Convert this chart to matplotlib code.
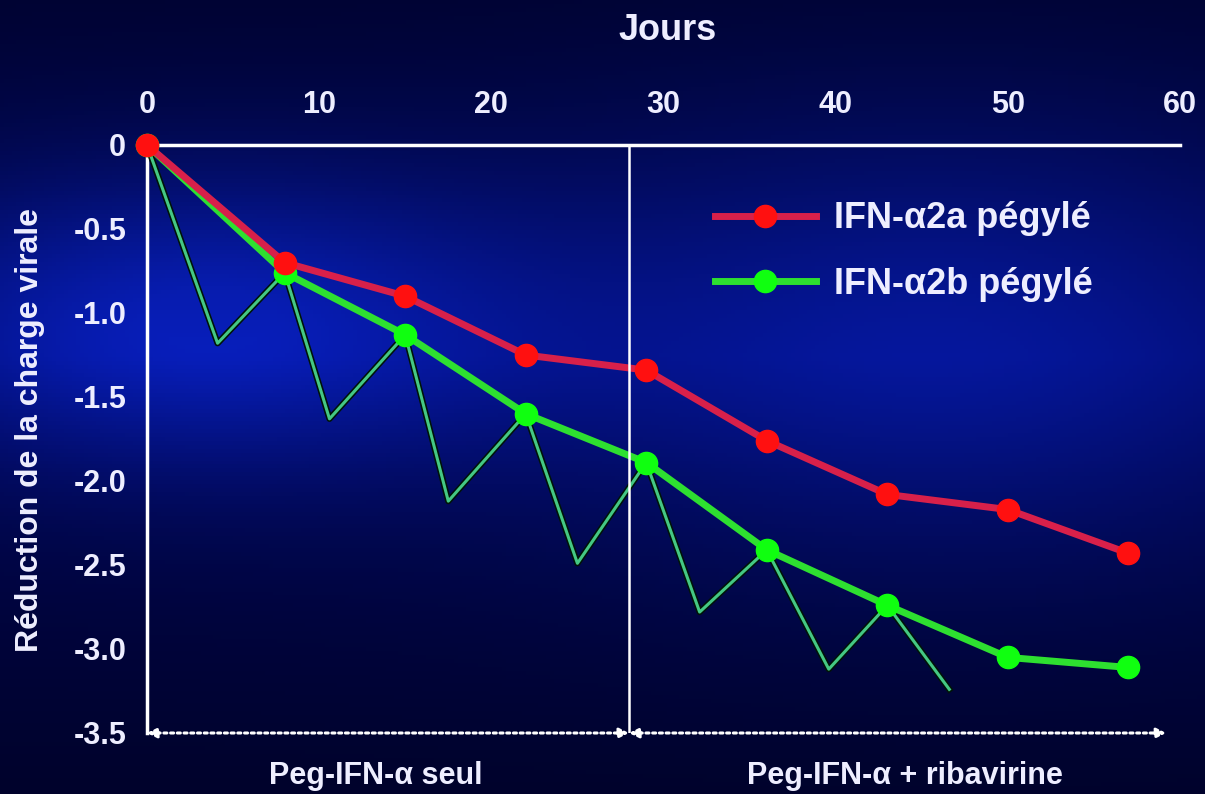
import matplotlib
matplotlib.use("Agg")
import matplotlib.pyplot as plt
import matplotlib.patheffects as pe
import numpy as np

plt.rcParams['font.family'] = ['Liberation Sans', 'DejaVu Sans']
plt.rcParams['font.weight'] = 'bold'

# data
days_a = [0, 8, 15, 22, 29, 36, 43, 50, 57]
red_a = [0, -0.70, -0.90, -1.25, -1.34, -1.76, -2.08, -2.17, -2.43]
days_b = [0, 8, 15, 22, 29, 36, 43, 50, 57]
green_b = [0, -0.76, -1.13, -1.60, -1.89, -2.41, -2.74, -3.05, -3.11]
# weekly dosing sawtooth for the 2b product
saw_days = [0, 4.1, 8, 10.6, 15, 17.5, 22, 25, 29, 32.1, 36, 39.6, 43, 46.6]
saw_vals = [0, -1.18, -0.76, -1.63, -1.13, -2.12, -1.60, -2.49, -1.89, -2.78, -2.41, -3.12, -2.74, -3.24]

phase_edges = [0, 28, 59.2]
phase_label_x = [13.3, 44.0]
phase_labels = ["Peg-IFN-\u03b1 seul", "Peg-IFN-\u03b1 + ribavirine"]
series_labels = ["IFN-\u03b12a p\u00e9gyl\u00e9", "IFN-\u03b12b p\u00e9gyl\u00e9"]
xticks = [0, 10, 20, 30, 40, 50, 60]
yticks = [0, -0.5, -1.0, -1.5, -2.0, -2.5, -3.0, -3.5]

W, H = 1205, 794
fig = plt.figure(figsize=(W / 100, H / 100), dpi=100)

# dark blue slide background with a soft glow
bg = fig.add_axes([0, 0, 1, 1], zorder=-5)
yy, xx = np.mgrid[0:1:200j, 0:1:300j]
glow = np.exp(-(((xx - 0.16) / 0.28) ** 2 + ((yy - 0.40) / 0.20) ** 2))
glow2 = 0.7 * np.exp(-(((xx - 0.78) / 0.35) ** 2 + ((yy - 0.42) / 0.30) ** 2))
g = np.clip(glow + glow2, 0, 1)
dark = 0.35 + 0.65 * np.clip(1 - np.abs(yy - 0.45) * 1.3, 0, 1)
img = np.zeros(yy.shape + (3,))
img[..., 0] = (0.00 + 0.03 * g) * dark
img[..., 1] = (0.02 + 0.10 * g) * dark
img[..., 2] = (0.32 + 0.42 * g) * dark
bg.imshow(img, aspect='auto', extent=[0, 1, 0, 1])
bg.axis('off')

ax = fig.add_axes([147 / W, 1 - 733 / H, 1033 / W, 588 / H])
ax.set_facecolor('none')
ax.set_xlim(0, 60)
ax.set_ylim(-3.5, 0)

for s in ['bottom', 'right']:
    ax.spines[s].set_visible(False)
for s in ['top', 'left']:
    ax.spines[s].set_color('white')
    ax.spines[s].set_linewidth(2.5)

ax.xaxis.tick_top()
ax.set_xticks(xticks)
ax.set_yticks(yticks)
ax.set_yticklabels(["0" if v == 0 else f"{v:.1f}" for v in yticks])
ax.tick_params(axis='x', length=0, pad=18, labelsize=22, colors='#eeeeff')
ax.tick_params(axis='y', length=0, pad=15, labelsize=22, colors='#eeeeff')

ax.axvline(phase_edges[1], color='white', lw=1.8, zorder=6)

shadow = [pe.Stroke(linewidth=4.5, foreground='#001408'), pe.Normal()]
ax.plot(saw_days, saw_vals, color='#44c884', lw=2.2, path_effects=shadow,
        zorder=3, clip_on=False)

ax.plot(days_b, green_b, color='#2ee030', lw=5, marker='o', ms=16,
        mfc='#10ff10', mec='#10ff10', zorder=4,
        clip_on=False, label=series_labels[1])
ax.plot(days_a, red_a, color='#d8204a', lw=5, marker='o', ms=16,
        mfc='#ff1010', mec='#ff1010', zorder=5,
        clip_on=False, label=series_labels[0])

handles, labels = ax.get_legend_handles_labels()
leg = ax.legend(handles[::-1], labels[::-1], loc='upper left',
                bbox_to_anchor=(0.532, 0.935), frameon=False,
                fontsize=26, handlelength=2.8, handletextpad=0.5,
                labelspacing=0.85, borderpad=0)
for t in leg.get_texts():
    t.set_color('#eeeeff')

# dotted phase arrows along the bottom
for i in range(2):
    ax.annotate('', xy=(phase_edges[i + 1], -3.5), xytext=(phase_edges[i], -3.5),
                arrowprops=dict(arrowstyle='<|-|>', color='white', lw=2.2,
                                linestyle=(0, (1, 1.2)), mutation_scale=14,
                                shrinkA=0, shrinkB=0),
                annotation_clip=False, zorder=7)
    ax.annotate(phase_labels[i], xy=(phase_label_x[i], -3.5), xytext=(0, -31),
                textcoords='offset points', ha='center', va='center',
                fontsize=22, color='#eeeeff', annotation_clip=False)

fig.text(668 / W, 1 - 30 / H, "Jours", ha='center', va='center',
         fontsize=26, color='#eeeeff')
fig.text(30 / W, 1 - 430 / H, "R\u00e9duction de la charge virale", ha='center',
         va='center', rotation=90, fontsize=23, color='#eeeeff')

fig.savefig("out.png", dpi=100)
